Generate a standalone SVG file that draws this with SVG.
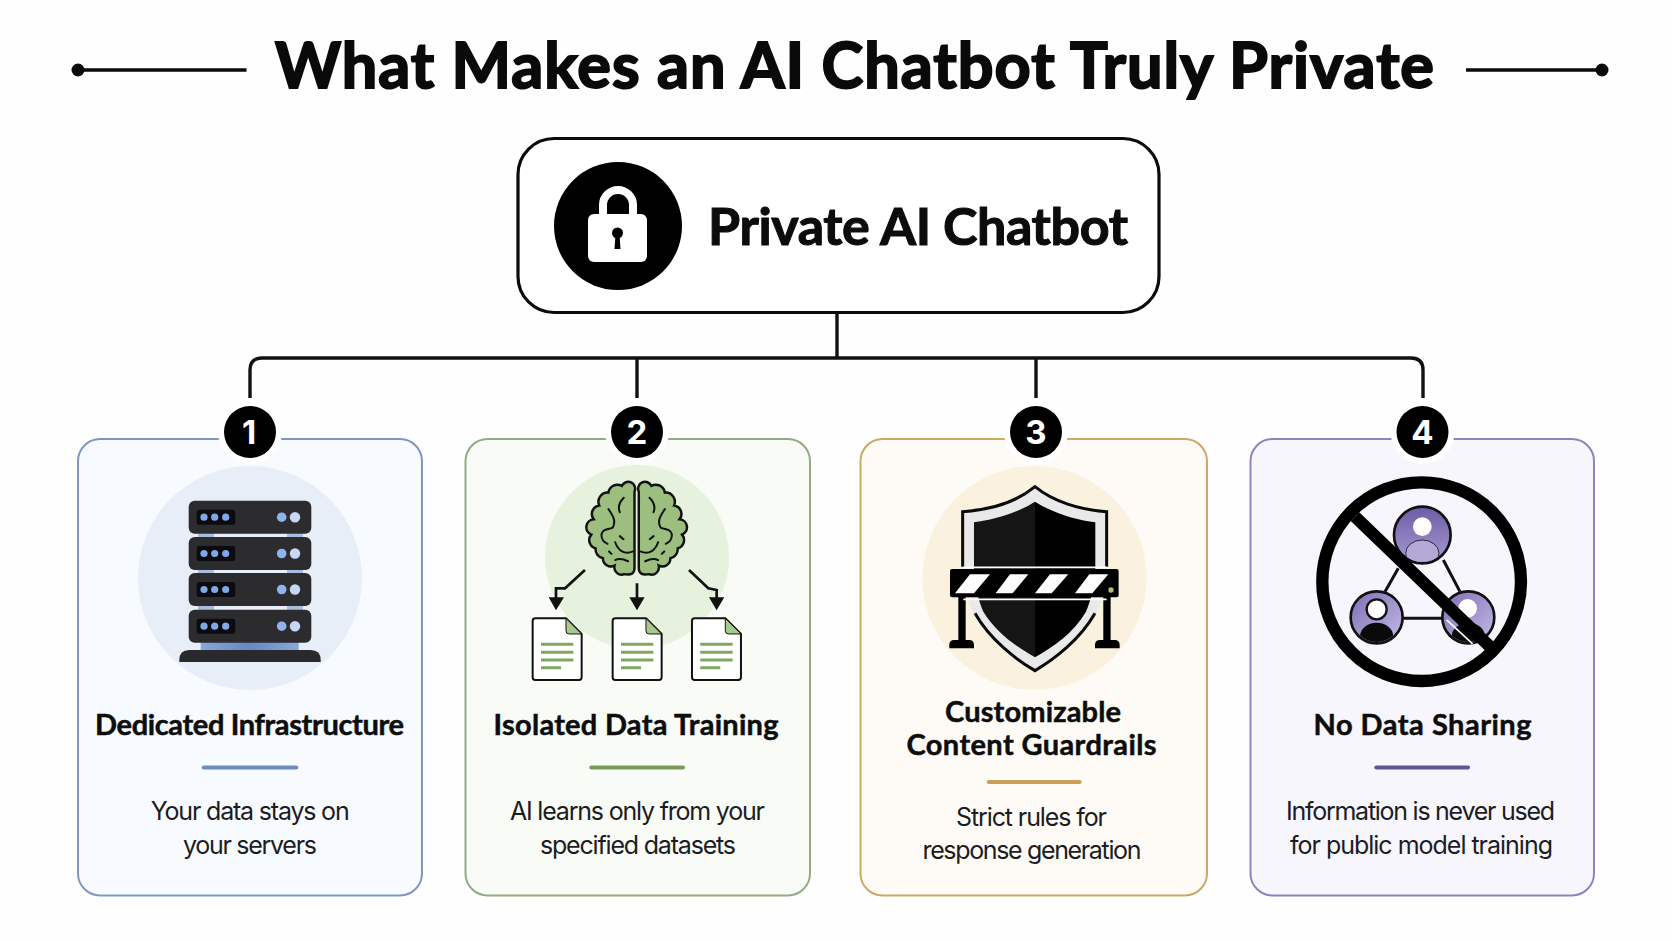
<svg xmlns="http://www.w3.org/2000/svg" xmlns:xlink="http://www.w3.org/1999/xlink" width="1672" height="941" viewBox="0 0 1672 941">
<style>
text{font-family:"Lato","Inter","Liberation Sans",sans-serif;text-anchor:start;}
.title{font-weight:700;font-size:63px;fill:#0a0a0a;stroke:#0a0a0a;stroke-width:2px;}
.root{font-weight:700;font-size:52px;fill:#0c0c0c;stroke:#0c0c0c;stroke-width:1.1px;}
.h{font-weight:700;font-size:29px;fill:#0d0d0d;stroke:#0d0d0d;stroke-width:.5px;}
.d{font-family:"Inter","Lato",sans-serif;font-weight:400;font-size:25px;fill:#1c1c22;}
.n{font-family:"Inter","Liberation Sans",sans-serif;font-weight:700;font-size:33px;fill:#fff;text-anchor:middle;}
.conn{fill:none;stroke:#111;stroke-width:3.4;}
.card{stroke-width:2;}
</style>
<defs>
<linearGradient id="gp1" x1="0" y1="0" x2="0" y2="1"><stop offset="0" stop-color="#6c5ca6"/><stop offset="1" stop-color="#a79bd2"/></linearGradient>
<linearGradient id="gp2" x1="0" y1="0" x2="1" y2="1"><stop offset="0" stop-color="#7d6eb6"/><stop offset="1" stop-color="#c4bbe4"/></linearGradient>
<linearGradient id="gs" x1="0" y1="0" x2="1" y2="0"><stop offset="0" stop-color="#8aa7d6"/><stop offset=".5" stop-color="#6489c4"/><stop offset="1" stop-color="#8aa7d6"/></linearGradient>
<clipPath id="cl"><circle cx="410" cy="592" r="74"/></clipPath>
<clipPath id="cr"><circle cx="685" cy="592" r="74"/></clipPath>
<clipPath id="ct"><circle cx="547" cy="345" r="81"/></clipPath>
<g id="srv">
<rect x="0" y="0" width="122.6" height="33" rx="6" fill="#2c2c2f"/>
<rect x="8" y="9" width="38.5" height="15" rx="2.5" fill="#0b0b10"/>
<circle cx="15.3" cy="16.5" r="3.6" fill="#7ea8e8"/><circle cx="26" cy="16.5" r="3.6" fill="#7ea8e8"/><circle cx="37" cy="16.5" r="3.6" fill="#7ea8e8"/>
<circle cx="93" cy="16.5" r="4.8" fill="#8fb4ec"/><circle cx="106.300" cy="16.500" r="5.200" fill="#c8d8f4"/>
</g>
<g id="doc">
<path d="M256 595H348L395 642V772Q395 780 387 780H256Q248 780 248 772V603Q248 595 256 595Z" fill="#fff" stroke="#111" stroke-width="6"/>
<path d="M348 595V632Q348 642 358 642H395Z" fill="#a8c98e" stroke="#111" stroke-width="3"/>
<path d="M273 673H370M273 697H370M273 720H370M273 743H333" stroke="#7fa85e" stroke-width="9" fill="none"/>
</g>
<g id="hemi">
<path d="M553 205A22 22 0 0 0 512 186A30 30 0 0 0 468 208A30 30 0 0 0 438 250A28 28 0 0 0 420 295A26 26 0 0 0 412 345A28 28 0 0 0 426 390A30 30 0 0 0 450 422A26 26 0 0 0 488 446A24 24 0 0 0 520 474Q553 480 553 455Z" fill="#9cbf80" stroke="#111" stroke-width="8"/>
<path d="M518 225C503 240 498 255 505 272M468 262C480 280 495 300 482 322C465 330 450 325 445 345C445 365 455 370 465 375M490 370C500 398 520 412 548 400M505 350L517 360M490 428C505 420 518 425 532 432M470 400L478 408" fill="none" stroke="#111" stroke-width="6.5" stroke-linecap="round"/>
</g>
</defs>
<rect width="1672" height="941" fill="#fefefe"/>

<g id="title">
<circle cx="78" cy="70" r="6.500" fill="#0a0a0a"/><path d="M78 70H246.500" stroke="#0a0a0a" stroke-width="3.400"/>
<circle cx="1602" cy="70" r="6.500" fill="#0a0a0a"/><path d="M1466 70H1602" stroke="#0a0a0a" stroke-width="3.400"/>
<text class="title" x="275" y="88" textLength="1159">What Makes an AI Chatbot Truly Private</text>
</g>

<g id="connectors">
<path class="conn" d="M837 312V358"/>
<path class="conn" d="M250 398V370Q250 358 262 358H1411Q1423 358 1423 370V398"/>
<path class="conn" d="M637 358V398M1036 358V398"/>
</g>

<g id="root">
<rect x="518" y="138.500" width="641" height="174" rx="36" fill="#fff" stroke="#0b0b0b" stroke-width="3.200"/>
<circle cx="618" cy="226" r="64" fill="#000"/>
<path d="M603 217V205A15 15 0 0 1 633 205V217" fill="none" stroke="#fff" stroke-width="8"/>
<rect x="588" y="214" width="59" height="48" rx="6" fill="#fff"/>
<circle cx="617.500" cy="233" r="5.500" fill="#000"/><path d="M615.500 235H619.500L620.500 249H614.500Z" fill="#000"/>
<text class="root" x="708" y="245" textLength="420">Private AI Chatbot</text>
</g>

<g id="card1">
<rect class="card" x="78" y="439" width="344" height="456.500" rx="22" fill="#f7fafe" stroke="#7f97bf"/>
<circle cx="250" cy="578" r="112" fill="#e7eef8"/>
<path d="M200.700 642H298.700V651H200.700Z" fill="url(#gs)"/>
<path d="M198 533H214V538H198ZM287 533H303V538H287ZM198 569H214V574H198ZM287 569H303V574H287ZM198 605H214V610H198ZM287 605H303V610H287Z" fill="#a9bedd"/>
<use href="#srv" x="188.700" y="500.700"/><use href="#srv" x="188.700" y="537"/><use href="#srv" x="188.700" y="573"/><use href="#srv" x="188.700" y="609.700"/>
<path d="M179.300 662V660Q179.300 650 189.300 650H310.700Q320.700 650 320.700 660V662Z" fill="#2a2a2d"/>
<text class="h" x="95" y="735" textLength="309">Dedicated Infrastructure</text>
<rect x="201.700" y="765.500" width="96.600" height="4" rx="2" fill="#6f8bb8"/>
<text class="d" x="150.700" y="820" textLength="199">Your data stays on</text>
<text class="d" x="183" y="853.500" textLength="134">your servers</text>
<circle cx="250" cy="432" r="32" fill="#fefefe"/><circle cx="250" cy="432" r="26" fill="#000"/><text class="n" x="249" y="444">1</text>
</g>

<g id="card2">
<rect class="card" x="465.500" y="439" width="344.500" height="456.500" rx="22" fill="#f8fbf6" stroke="#93ab82"/>
<circle cx="637" cy="557" r="92" fill="#e6f1de"/>
<g transform="translate(450 420) scale(.3333)">
<g transform="translate(560 330) scale(.92) translate(-560 -330)"><use href="#hemi"/><use href="#hemi" transform="translate(1120 0) scale(-1 1)"/></g>
<path d="M405 450L345 505H318V540M561 490V540M717 450L775 505L800 510V540" fill="none" stroke="#111" stroke-width="8"/>
<path d="M296 532H342L318 571ZM538 532H584L561 571ZM777 532H823L800 571Z" fill="#111"/>
<use href="#doc"/><use href="#doc" x="240"/><use href="#doc" x="478"/>
</g>
<text class="h" x="493.500" y="735" textLength="285">Isolated Data Training</text>
<rect x="589.300" y="765.500" width="95.700" height="4" rx="2" fill="#7a9a5a"/>
<text class="d" x="510" y="820" textLength="255">AI learns only from your</text>
<text class="d" x="540" y="853.500" textLength="196">specified datasets</text>
<circle cx="637" cy="432" r="32" fill="#fefefe"/><circle cx="637" cy="432" r="26" fill="#000"/><text class="n" x="637" y="444">2</text>
</g>

<g id="card3">
<rect class="card" x="860.500" y="439" width="346.500" height="456.500" rx="22" fill="#fefbf6" stroke="#cda865"/>
<circle cx="1034.500" cy="578" r="112" fill="#faf1df"/>
<g transform="translate(850 420) scale(.3333)">
<path d="M555 200C500 245 420 270 338 275V450C340 520 360 560 385 600C430 670 500 720 555 752C610 720 680 670 725 600C750 560 770 520 770 450V275C690 270 610 245 555 200Z" fill="#e9e9e9"/>
<path d="M338 440V275C420 270 500 245 555 200C610 245 690 270 770 275V440" fill="none" stroke="#0a0a0a" stroke-width="9"/>
<path d="M375 580C420 660 500 720 555 752C610 720 690 660 735 580" fill="none" stroke="#0a0a0a" stroke-width="9"/>
<path d="M555 245C500 280 430 300 372 307V450C375 500 385 540 400 575C440 640 500 680 555 712Z" fill="#151515"/>
<path d="M555 245C610 280 680 300 736 307V450C733 500 723 540 708 575C670 640 610 680 555 712Z" fill="#000"/>
<path d="M325 530H347V665H325ZM760 530H782V665H760Z" fill="#000"/>
<path d="M298 685V675Q298 660 313 660H357Q372 660 372 675V685ZM735 685V675Q735 660 750 660H794Q809 660 809 675V685Z" fill="#000"/>
<path d="M340 442H770M340 538H770" stroke="#fff" stroke-width="5"/>
<rect x="300" y="447" width="506" height="85" rx="6" fill="#000"/>
<path d="M360 463H420L372 520H315ZM480 463H535L488 520H437ZM600 463H655L605 520H555ZM718 463H775L727 520H675Z" fill="#fff"/>
<circle cx="783" cy="510" r="8" fill="#a9c06e"/>
</g>
<text class="h" x="945" y="722" textLength="176">Customizable</text>
<text class="h" x="906.500" y="754.500" textLength="250">Content Guardrails</text>
<rect x="986.700" y="780" width="95" height="4" rx="2" fill="#c7a152"/>
<text class="d" x="956" y="826" textLength="151">Strict rules for</text>
<text class="d" x="922.500" y="859" textLength="219">response generation</text>
<circle cx="1036" cy="432" r="32" fill="#fefefe"/><circle cx="1036" cy="432" r="26" fill="#000"/><text class="n" x="1036" y="444">3</text>
</g>

<g id="card4">
<rect class="card" x="1250.500" y="439" width="343.500" height="456.500" rx="22" fill="#f8f6fd" stroke="#8e83bf"/>
<g transform="translate(1240 420) scale(.3333)">
<path d="M475 445L435 515M610 420L660 515M490 595H610" stroke="#111" stroke-width="9" fill="none"/>
<circle cx="547" cy="345" r="85" fill="url(#gp1)" stroke="#111" stroke-width="8"/>
<g clip-path="url(#ct)"><circle cx="547" cy="320" r="28" fill="#fff"/><ellipse cx="547" cy="400" rx="50" ry="40" fill="#b4a8d6" stroke="#2a2640" stroke-width="3"/></g>
<circle cx="410" cy="592" r="78" fill="url(#gp2)" stroke="#111" stroke-width="8"/>
<g clip-path="url(#cl)"><circle cx="410" cy="568" r="30" fill="#fff" stroke="#111" stroke-width="7"/><ellipse cx="410" cy="650" rx="50" ry="42" fill="#0a0a0a"/></g>
<circle cx="685" cy="592" r="78" fill="url(#gp2)" stroke="#111" stroke-width="8"/>
<g clip-path="url(#cr)"><circle cx="683" cy="565" r="28" fill="#fff"/><ellipse cx="685" cy="650" rx="50" ry="42" fill="#0a0a0a"/></g>
<path d="M620 600L698 672" stroke="#fff" stroke-width="5"/>
<path d="M345 290L750 680" stroke="#000" stroke-width="37"/>
<circle cx="545" cy="485" r="298" fill="none" stroke="#000" stroke-width="37"/>
</g>
<text class="h" x="1313.500" y="735" textLength="218">No Data Sharing</text>
<rect x="1374.300" y="765.500" width="95.700" height="4" rx="2" fill="#655298"/>
<text class="d" x="1286" y="820" textLength="269">Information is never used</text>
<text class="d" x="1290" y="853.500" textLength="263">for public model training</text>
<circle cx="1422.500" cy="432" r="32" fill="#fefefe"/><circle cx="1422.500" cy="432" r="26" fill="#000"/><text class="n" x="1422.500" y="444">4</text>
</g>
</svg>
